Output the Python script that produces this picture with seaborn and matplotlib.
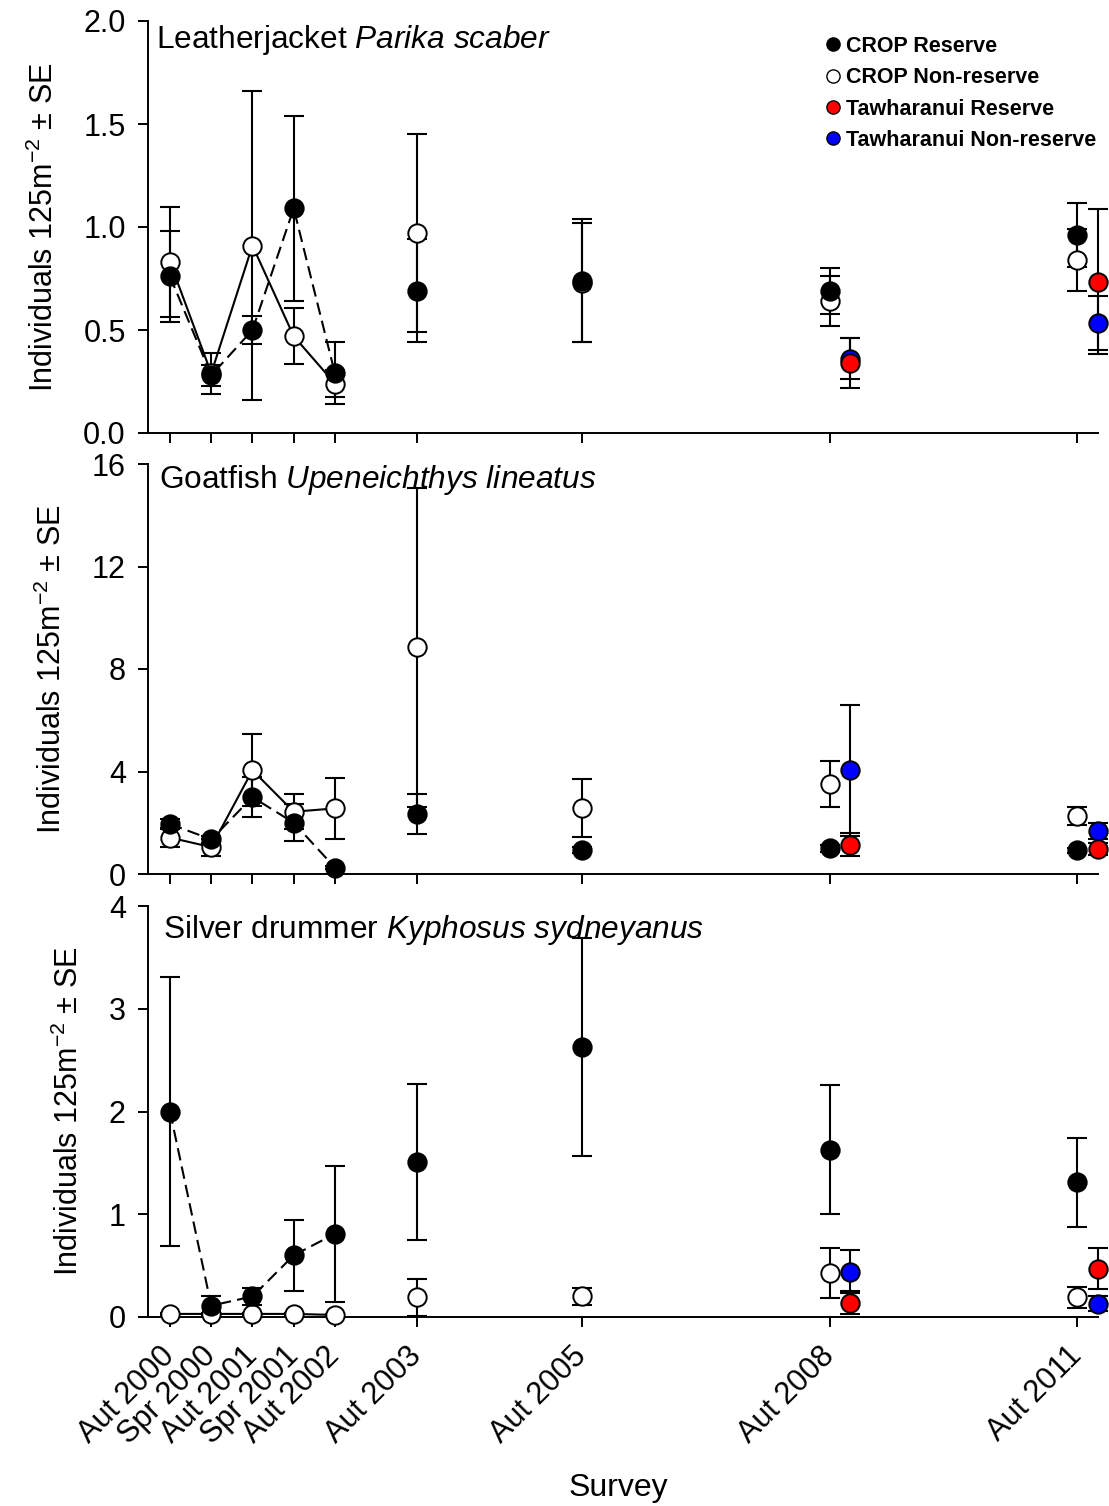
import matplotlib
matplotlib.use("Agg")
import matplotlib.pyplot as plt
from matplotlib.lines import Line2D
import seaborn as sns

sns.set_style("ticks")
plt.rcParams["font.family"] = ["Liberation Sans", "DejaVu Sans"]
plt.rcParams["mathtext.fontset"] = "custom"
plt.rcParams["mathtext.rm"] = "Liberation Sans"
plt.rcParams["mathtext.it"] = "Liberation Sans:italic"
plt.rcParams["axes.linewidth"] = 1.4
for key in ["text.color", "axes.labelcolor", "xtick.color", "ytick.color", "axes.edgecolor"]:
    plt.rcParams[key] = "black"

# survey labels and their time (years)
surveys = ["Aut 2000", "Spr 2000", "Aut 2001", "Spr 2001", "Aut 2002",
           "Aut 2003", "Aut 2005", "Aut 2008", "Aut 2011"]
survey_time = [2000.0, 2000.5, 2001.0, 2001.5, 2002.0, 2003.0, 2005.0, 2008.0, 2011.0]
taw_time = [2008.0, 2011.0]

# Leatherjacket Parika scaber
lj_crop_res = [0.76, 0.28, 0.50, 1.09, 0.29, 0.69, 0.74, 0.69, 0.96]
lj_crop_res_se = [0.22, 0.05, 0.07, 0.45, 0.15, 0.25, 0.30, 0.11, 0.155]
lj_crop_non = [0.83, 0.29, 0.91, 0.47, 0.24, 0.97, 0.73, 0.64, 0.84]
lj_crop_non_se = [0.265, 0.10, 0.75, 0.135, 0.065, 0.48, 0.29, 0.12, 0.15]
lj_taw_res = [0.34, 0.735]
lj_taw_res_se = [0.12, 0.35]
lj_taw_non = [0.36, 0.535]
lj_taw_non_se = [0.10, 0.13]

# Goatfish Upeneichthys lineatus
gf_crop_res = [1.95, 1.35, 3.0, 2.0, 0.25, 2.34, 0.95, 1.0, 0.92]
gf_crop_res_se = [0.2, 0.15, 0.78, 0.72, 0.05, 0.79, 0.12, 0.15, 0.1]
gf_crop_non = [1.42, 1.05, 4.05, 2.43, 2.56, 8.85, 2.57, 3.5, 2.25]
gf_crop_non_se = [0.38, 0.33, 1.4, 0.68, 1.2, 6.22, 1.14, 0.9, 0.35]
gf_taw_res = [1.15, 0.98]
gf_taw_res_se = [0.45, 0.22]
gf_taw_non = [4.05, 1.68]
gf_taw_non_se = [2.55, 0.32]

# Silver drummer Kyphosus sydneyanus
sd_crop_res = [2.0, 0.11, 0.2, 0.6, 0.81, 1.51, 2.63, 1.63, 1.31]
sd_crop_res_se = [1.31, 0.09, 0.08, 0.345, 0.66, 0.76, 1.06, 0.63, 0.43]
sd_crop_non = [0.03, 0.03, 0.03, 0.03, 0.02, 0.19, 0.20, 0.43, 0.19]
sd_crop_non_se = [0.01, 0.01, 0.01, 0.01, 0.01, 0.18, 0.08, 0.245, 0.1]
sd_taw_res = [0.14, 0.47]
sd_taw_res_se = [0.11, 0.2]
sd_taw_non = [0.44, 0.13]
sd_taw_non_se = [0.21, 0.07]

panels = [
    ("Leatherjacket $\\it{Parika\\ scaber}$", 2.0, [0, 0.5, 1.0, 1.5, 2.0], "{:.1f}",
     lj_crop_res, lj_crop_res_se, lj_crop_non, lj_crop_non_se,
     lj_taw_res, lj_taw_res_se, lj_taw_non, lj_taw_non_se, (0.008, 0.995)),
    ("Goatfish $\\it{Upeneichthys\\ lineatus}$", 16, [0, 4, 8, 12, 16], "{:.0f}",
     gf_crop_res, gf_crop_res_se, gf_crop_non, gf_crop_non_se,
     gf_taw_res, gf_taw_res_se, gf_taw_non, gf_taw_non_se, (0.012, 1.003)),
    ("Silver drummer $\\it{Kyphosus\\ sydneyanus}$", 4, [0, 1, 2, 3, 4], "{:.0f}",
     sd_crop_res, sd_crop_res_se, sd_crop_non, sd_crop_non_se,
     sd_taw_res, sd_taw_res_se, sd_taw_non, sd_taw_non_se, (0.016, 0.982)),
]

W, H = 1109, 1506
fig = plt.figure(figsize=(W / 100, H / 100), dpi=100)
left, right = 148, 1098
tops = [(21, 433), (464, 874), (906, 1317)]
taw_offset = 0.25
dash = (0, (6, 3))
ms_area = 175
err_kw = dict(fmt="none", ecolor="black", elinewidth=1.5, capsize=7.5, capthick=1.5,
              clip_on=False)
sc_kw = dict(edgecolor="black", linewidth=1.4, s=ms_area, clip_on=False)

axes = []
for i, (title, ymax, yticks, fmt, cres, cres_se, cnon, cnon_se,
        tres, tres_se, tnon, tnon_se, tpos) in enumerate(panels):
    top, bot = tops[i]
    ax = fig.add_axes([left / W, 1 - bot / H, (right - left) / W, (bot - top) / H])
    axes.append(ax)
    ttime = [t + taw_offset for t in taw_time]

    ax.errorbar(survey_time, cnon, yerr=cnon_se, zorder=2, **err_kw)
    ax.errorbar(survey_time, cres, yerr=cres_se, zorder=2, **err_kw)
    ax.errorbar(ttime, tnon, yerr=tnon_se, zorder=2, **err_kw)
    ax.errorbar(ttime, tres, yerr=tres_se, zorder=2, **err_kw)

    # early surveys joined by lines
    sns.lineplot(x=survey_time[:5], y=cnon[:5], ax=ax, color="black", lw=1.5,
                 estimator=None, sort=False, zorder=3)
    sns.lineplot(x=survey_time[:5], y=cres[:5], ax=ax, color="black", lw=1.5,
                 linestyle=dash, estimator=None, sort=False, zorder=3)

    sns.scatterplot(x=survey_time, y=cnon, ax=ax, color="white", zorder=4, **sc_kw)
    sns.scatterplot(x=survey_time, y=cres, ax=ax, color="black", zorder=5, **sc_kw)
    sns.scatterplot(x=ttime, y=tnon, ax=ax, color="#0000ff", zorder=6, **sc_kw)
    sns.scatterplot(x=ttime, y=tres, ax=ax, color="#ff0000", zorder=7, **sc_kw)

    ax.set_xlim(1999.733, 2011.255)
    ax.set_ylim(0, ymax)
    ax.set_yticks(yticks)
    ax.set_yticklabels([fmt.format(v) for v in yticks])
    ax.set_xticks(survey_time)
    if i < 2:
        ax.set_xticklabels([])
    ax.tick_params(axis="both", direction="out", length=7, width=1.4, labelsize=22)
    ax.tick_params(axis="y", pad=9)
    ax.set_ylabel("Individuals 125m$^{-2}$ ± SE", fontsize=22, labelpad=17)
    ax.set_xlabel("")
    sns.despine(ax=ax)
    ax.text(tpos[0], tpos[1], title, transform=ax.transAxes, fontsize=22.8,
            ha="left", va="top")

# bottom tick labels
bax = axes[-1]
bax.set_xticklabels(surveys, rotation=45, ha="right", va="center",
                    rotation_mode="anchor", fontsize=22)
bax.tick_params(axis="x", pad=18)
fig.text(618 / W, 1 - 1488 / H, "Survey", fontsize=23, ha="center", va="center")

# legend
def legend_handle(face, label):
    return Line2D([], [], marker="o", ls="none", markersize=9.5, markerfacecolor=face,
                  markeredgecolor="black", markeredgewidth=1.0, label=label)


handles = [
    legend_handle("black", "CROP Reserve"),
    legend_handle("white", "CROP Non-reserve"),
    legend_handle("#ff0000", "Tawharanui Reserve"),
    legend_handle("#0000ff", "Tawharanui Non-reserve"),
]
leg = axes[0].legend(handles=handles, loc="upper left",
                     bbox_to_anchor=(827 / W, 1 - 36 / H), bbox_transform=fig.transFigure,
                     frameon=False, handlelength=0.6, handletextpad=0.3,
                     labelspacing=0.48, borderpad=0, borderaxespad=0,
                     prop={"weight": "bold", "size": 15.5})

fig.savefig("out.png", dpi=100)
